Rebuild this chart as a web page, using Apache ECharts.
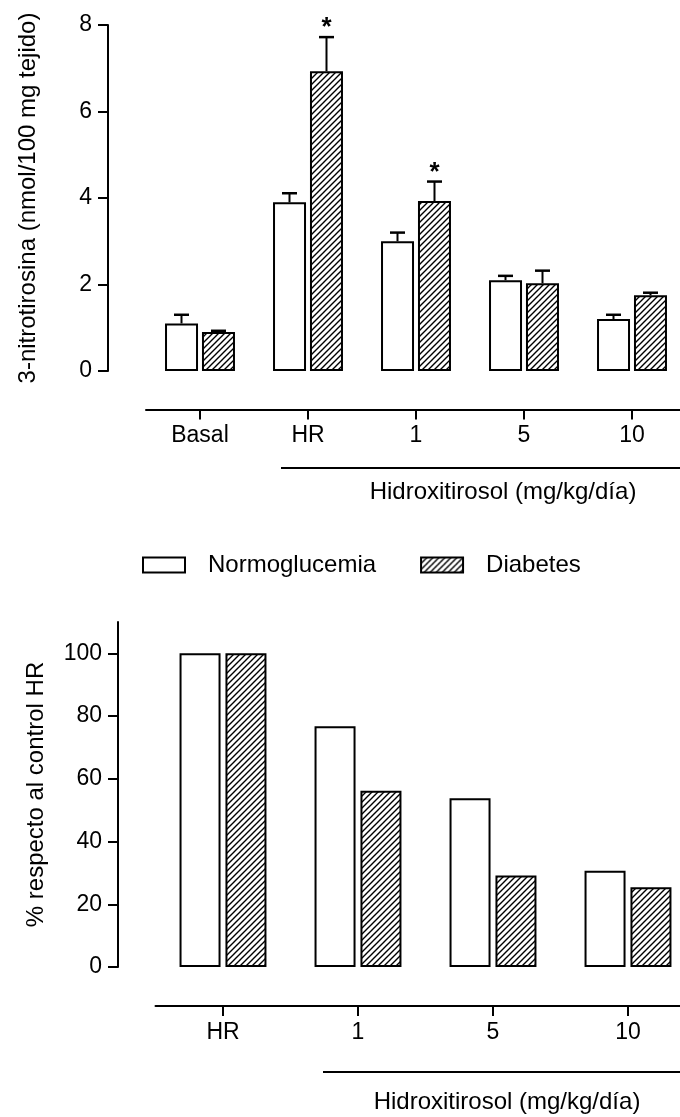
<!DOCTYPE html>
<html>
<head>
<meta charset="utf-8">
<script src="https://cdn.jsdelivr.net/npm/echarts@6/dist/echarts.min.js"></script>
<style>
html,body{margin:0;padding:0;background:#fff;}
#c{width:680px;height:1117px;}
</style>
</head>
<body>
<div id="c"></div>
<script>
// ---- data ----
const categoriesTop = ['Basal', 'HR', '1', '5', '10'];
const normoMean = [1.10, 3.90, 3.00, 2.10, 1.20];
const normoErrTop = [1.30, 4.11, 3.20, 2.20, 1.30];
const diabMean = [0.90, 6.93, 3.93, 2.03, 1.75];
const diabErrTop = [0.93, 7.72, 4.38, 2.32, 1.81];
const normoSig = ['', '', '', '', ''];
const diabSig = ['', '*', '*', '', ''];
const categoriesBottom = ['HR', '1', '5', '10'];
const normoPct = [100, 76.8, 53.8, 30.7];
const diabPct = [100, 56.2, 29.2, 25.4];
const bottomTickValues = [0, 20, 40, 60, 80, 100];

const FONT = 'Liberation Sans, Arial, sans-serif';

// hatch pattern
function hatch() {
  const s = 6;
  const cv = document.createElement('canvas');
  cv.width = s; cv.height = s;
  const ctx = cv.getContext('2d');
  ctx.fillStyle = '#fff';
  ctx.fillRect(0, 0, s, s);
  ctx.strokeStyle = '#000';
  ctx.lineWidth = 1.4;
  ctx.beginPath();
  ctx.moveTo(-1, s + 1); ctx.lineTo(s + 1, -1);
  ctx.moveTo(-s / 2 - 1, s / 2 + 1); ctx.lineTo(s / 2 + 1, -s / 2 - 1);
  ctx.moveTo(s / 2 - 1, s * 1.5 + 1); ctx.lineTo(s * 1.5 + 1, s / 2 - 1);
  ctx.stroke();
  return cv;
}
const hatchFill = { image: hatch(), repeat: 'repeat' };

function errSeries(name, side, means, tops, sig) {
  return {
    type: 'custom', name: name, xAxisIndex: 0, yAxisIndex: 0, z: 5,
    data: means.map((m, i) => [i, m, tops[i]]),
    renderItem: function (params, api) {
      const i = api.value(0);
      const base = api.coord([i, api.value(1)]);
      const tip = api.coord([i, api.value(2)]);
      const x = base[0] + side * 18.5;
      const cap = 7.5;
      const children = [
        { type: 'line', shape: { x1: x, y1: base[1], x2: x, y2: tip[1] }, style: { stroke: '#000', lineWidth: 2 } },
        { type: 'line', shape: { x1: x - cap, y1: tip[1], x2: x + cap, y2: tip[1] }, style: { stroke: '#000', lineWidth: 2.5 } }
      ];
      if (sig[params.dataIndex]) {
        children.push({ type: 'text', style: { text: sig[params.dataIndex], x: x, y: tip[1] - 9, align: 'center', verticalAlign: 'middle', font: 'bold 26px ' + FONT, fill: '#000' } });
      }
      return { type: 'group', children: children };
    }
  };
}

const axisLineStyle = { color: '#000', width: 2 };

const option = {
  animation: false,
  backgroundColor: '#fff',
  textStyle: { fontFamily: FONT, color: '#000' },
  legend: {
    data: ['Normoglucemia', 'Diabetes'],
    left: 142, top: 553, padding: 0,
    icon: 'rect', itemWidth: 42, itemHeight: 15, itemGap: 44,
    itemStyle: { borderColor: '#000', borderWidth: 2 },
    textStyle: { fontSize: 24, color: '#000', fontFamily: FONT, padding: [0, 0, 0, 18] }
  },
  grid: [
    { left: 146, width: 540, top: 25, height: 346, outerBoundsMode: 'none' },
    { left: 155.5, width: 540, top: 622, height: 345, outerBoundsMode: 'none' }
  ],
  xAxis: [
    {
      type: 'category', gridIndex: 0, data: categoriesTop, position: 'bottom', offset: 38.6,
      axisLine: { show: true, onZero: false, lineStyle: axisLineStyle },
      axisTick: { show: true, alignWithLabel: true, length: 10, lineStyle: axisLineStyle },
      axisLabel: { fontSize: 23, color: '#000', margin: 15, fontFamily: FONT },
      splitLine: { show: false }
    },
    {
      type: 'category', gridIndex: 1, data: categoriesBottom, position: 'bottom', offset: 39,
      axisLine: { show: true, onZero: false, lineStyle: axisLineStyle },
      axisTick: { show: true, alignWithLabel: true, length: 10, lineStyle: axisLineStyle },
      axisLabel: { fontSize: 23, color: '#000', margin: 15, fontFamily: FONT },
      splitLine: { show: false }
    }
  ],
  yAxis: [
    {
      type: 'value', gridIndex: 0, min: 0, max: 8, interval: 2, offset: 38,
      name: '3-nitrotirosina (nmol/100 mg tejido)', nameLocation: 'middle', nameRotate: 90, nameGap: 68,
      nameTextStyle: { fontSize: 24, color: '#000', fontFamily: FONT },
      axisLine: { show: true, onZero: false, lineStyle: axisLineStyle },
      axisTick: { show: true, length: 10, lineStyle: axisLineStyle },
      axisLabel: { fontSize: 23, color: '#000', margin: 16, fontFamily: FONT },
      splitLine: { show: false }
    },
    {
      type: 'value', gridIndex: 1, min: 0, max: 110, interval: 10, offset: 37.5,
      name: '% respecto al control HR', nameLocation: 'middle', nameRotate: 90, nameGap: 70,
      nameTextStyle: { fontSize: 24, color: '#000', fontFamily: FONT },
      axisLine: { show: true, onZero: false, lineStyle: axisLineStyle },
      axisTick: { show: true, length: 10, lineStyle: axisLineStyle, customValues: bottomTickValues },
      axisLabel: { fontSize: 23, color: '#000', margin: 16, fontFamily: FONT, customValues: bottomTickValues },
      splitLine: { show: false }
    }
  ],
  series: [
    {
      type: 'bar', name: 'Normoglucemia', xAxisIndex: 0, yAxisIndex: 0, data: normoMean,
      barWidth: 33, barGap: '12%',
      itemStyle: { color: '#fff', borderColor: '#000', borderWidth: 2 }
    },
    {
      type: 'bar', name: 'Diabetes', xAxisIndex: 0, yAxisIndex: 0, data: diabMean,
      barWidth: 33, barGap: '12%',
      itemStyle: { color: hatchFill, borderColor: '#000', borderWidth: 2 }
    },
    errSeries('errN', -1, normoMean, normoErrTop, normoSig),
    errSeries('errD', 1, diabMean, diabErrTop, diabSig),
    {
      type: 'bar', name: 'Normoglucemia', xAxisIndex: 1, yAxisIndex: 1, data: normoPct,
      barWidth: 41, barGap: '12%',
      itemStyle: { color: '#fff', borderColor: '#000', borderWidth: 2 }
    },
    {
      type: 'bar', name: 'Diabetes', xAxisIndex: 1, yAxisIndex: 1, data: diabPct,
      barWidth: 41, barGap: '12%',
      itemStyle: { color: hatchFill, borderColor: '#000', borderWidth: 2 }
    }
  ],
  graphic: [
    { type: 'line', shape: { x1: 281, y1: 468, x2: 680, y2: 468 }, style: { stroke: '#000', lineWidth: 2 } },
    { type: 'text', style: { text: 'Hidroxitirosol (mg/kg/día)', x: 503, y: 492, align: 'center', verticalAlign: 'middle', font: '24px ' + FONT, fill: '#000' } },
    { type: 'line', shape: { x1: 323, y1: 1072, x2: 680, y2: 1072 }, style: { stroke: '#000', lineWidth: 2 } },
    { type: 'text', style: { text: 'Hidroxitirosol (mg/kg/día)', x: 507, y: 1102, align: 'center', verticalAlign: 'middle', font: '24px ' + FONT, fill: '#000' } }
  ]
};

const chart = echarts.init(document.getElementById('c'), null, { renderer: 'canvas' });
chart.setOption(option);
</script>
</body>
</html>
